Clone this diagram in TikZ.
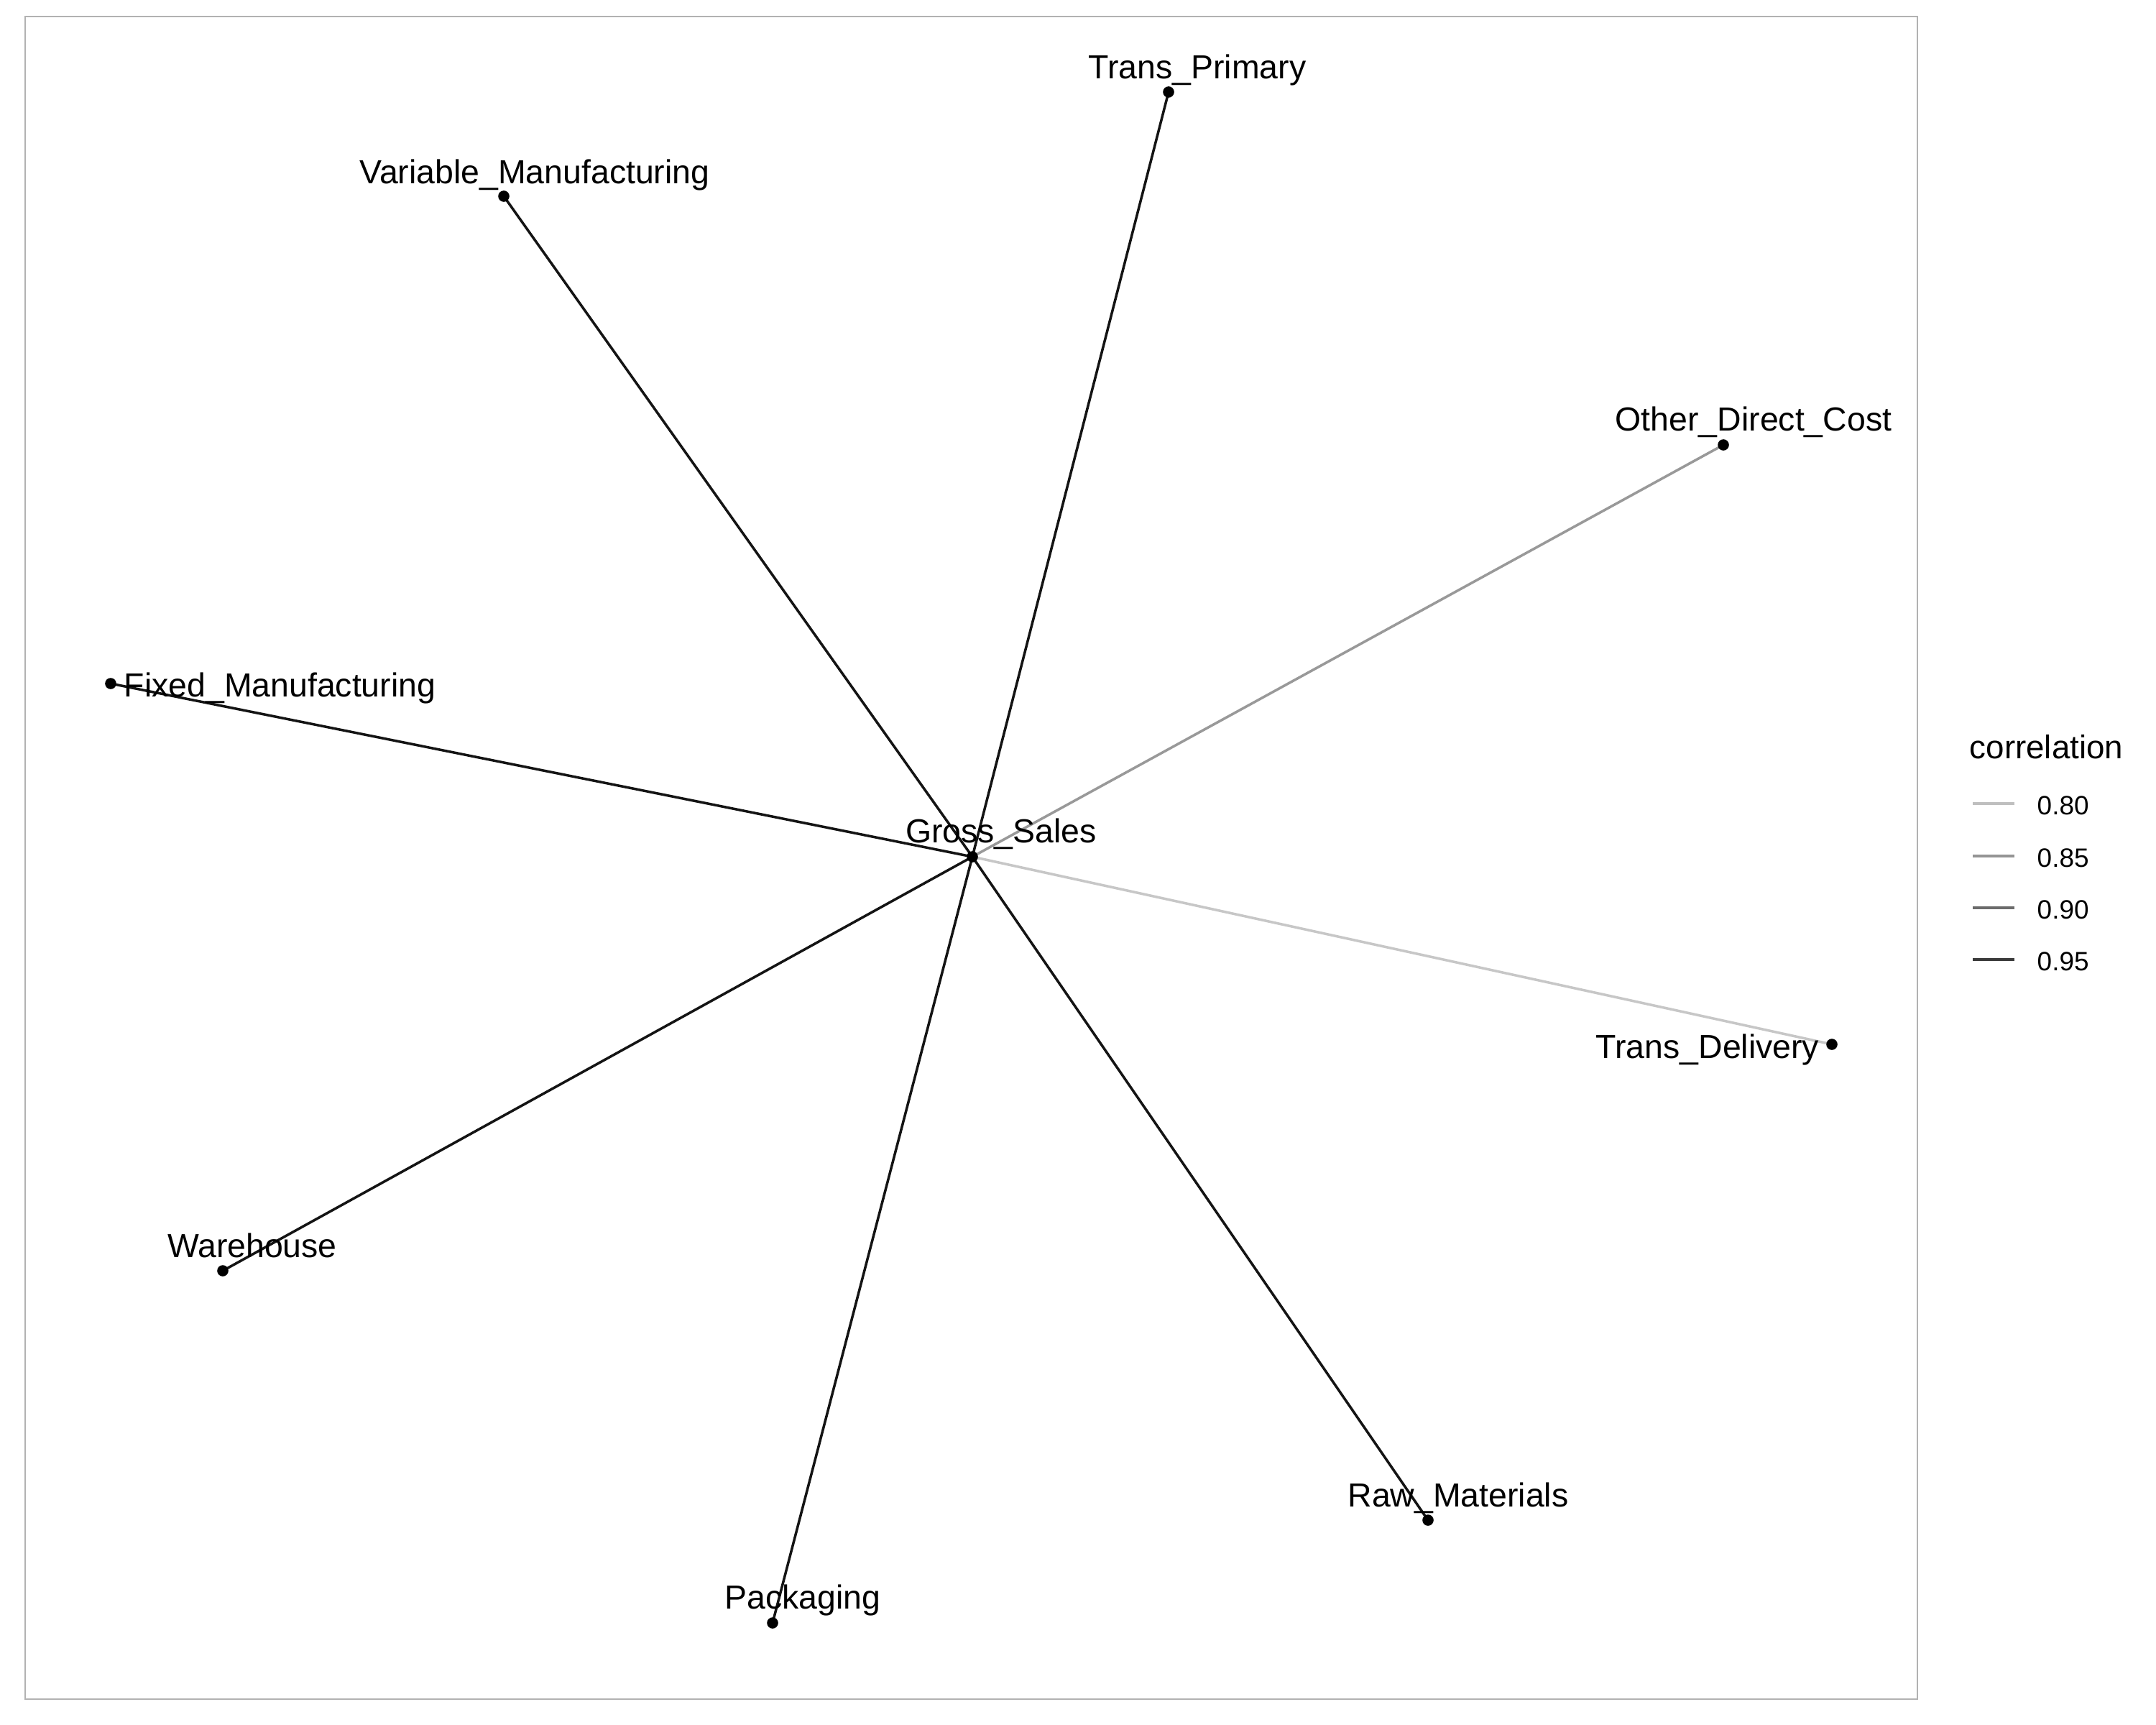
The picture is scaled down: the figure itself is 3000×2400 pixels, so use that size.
\documentclass[tikz,border=0pt]{standalone}
\usepackage{fontspec}
\setmainfont{Liberation Sans}

\definecolor{edgedark}{gray}{0.08}
\definecolor{edgemid}{gray}{0.6}
\definecolor{edgelight}{gray}{0.78}
\definecolor{panelgrey}{gray}{0.7}

\tikzset{
  lab/.style={anchor=base, inner sep=0pt, font=\fontsize{13.2}{16}\selectfont},
  keylab/.style={anchor=base west, inner sep=0pt, font=\fontsize{10.5}{12}\selectfont},
  edge/.style={line width=1pt}
}

\begin{document}
\begin{tikzpicture}[x=0.01cm, y=-0.01cm]
\useasboundingbox[fill=white] (0,0) rectangle (3000,2400);
\draw[panelgrey, line width=0.57pt] (35,23) rectangle (2668,2364);

% vertex positions
\coordinate (GS) at (1353,1192);
\coordinate (TP) at (1626,128);
\coordinate (VM) at (701,273);
\coordinate (ODC) at (2398,619);
\coordinate (FM) at (154,951);
\coordinate (TD) at (2549,1453);
\coordinate (WH) at (310,1768);
\coordinate (RM) at (1987,2115);
\coordinate (PK) at (1075,2258);

% edges
\foreach \v/\c in {TP/edgedark, VM/edgedark, FM/edgedark, WH/edgedark,
                   PK/edgedark, RM/edgedark, ODC/edgemid, TD/edgelight}
  \draw[edge, \c] (GS) -- (\v);

\foreach \v in {GS, TP, VM, ODC, FM, TD, WH, RM, PK}
  \fill (\v) circle (0.078cm);

% labels
\node[lab] (GS-l) at (1393,1172) {Gross\_Sales};
\node[lab] (TP-l) at (1666,110) {Trans\_Primary};
\node[lab] (VM-l) at (744,255) {Variable\_Manufacturing};
\node[lab] (ODC-l) at (2440,599) {Other\_Direct\_Cost};
\node[lab, anchor=base west] (FM-l) at (172,969) {Fixed\_Manufacturing};
\node[lab] (TD-l) at (2376,1472) {Trans\_Delivery};
\node[lab] (WH-l) at (351,1749) {Warehouse};
\node[lab] (RM-l) at (2029,2096) {Raw\_Materials};
\node[lab] (PK-l) at (1117,2238) {Packaging};

% legend
\node[lab, anchor=base west, font=\fontsize{13}{16}\selectfont] (leg) at (2740,1055) {correlation};
\foreach \y/\g/\t in {1118/0.75/0.80, 1191/0.58/0.85, 1263/0.42/0.90, 1335/0.23/0.95}
{
  \draw[line width=1.14pt, color={rgb,1:red,\g;green,\g;blue,\g}] (2745,\y) -- (2803,\y);
  \node[keylab] at (2834,\y+15) {\t};
}
\end{tikzpicture}
\end{document}
